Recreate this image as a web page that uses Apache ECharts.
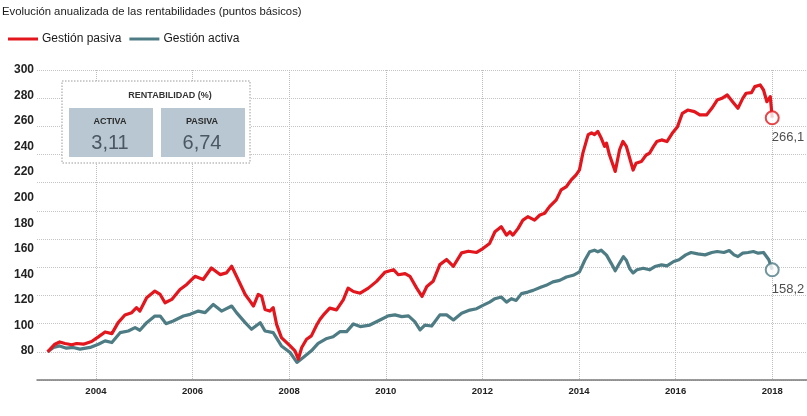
<!DOCTYPE html>
<html>
<head>
<meta charset="utf-8">
<script src="https://cdn.jsdelivr.net/npm/echarts@6/dist/echarts.min.js"></script>
<style>
html, body { margin: 0; padding: 0; background: #fff; }
#grafico { width: 807px; height: 416px; }
</style>
</head>
<body>
<div id="grafico"></div>
<script>
// datos (indice base 100 en 2003)
var fechasPasiva = [
  2003.00, 2003.15, 2003.25, 2003.36, 2003.50, 2003.60, 2003.74, 2003.91,
  2004.05, 2004.19, 2004.33, 2004.46, 2004.60, 2004.74, 2004.84, 2004.91,
  2005.05, 2005.22, 2005.33, 2005.43, 2005.57, 2005.74, 2005.88,
  2006.05, 2006.22, 2006.39, 2006.57, 2006.70, 2006.81, 2006.91,
  2007.09, 2007.19, 2007.26, 2007.36, 2007.43, 2007.50, 2007.60, 2007.67, 2007.74, 2007.84,
  2008.02, 2008.12, 2008.19, 2008.26, 2008.36, 2008.46, 2008.57, 2008.64, 2008.71, 2008.84, 2008.98,
  2009.12, 2009.22, 2009.33, 2009.47, 2009.64, 2009.81, 2009.98,
  2010.16, 2010.26, 2010.40, 2010.50, 2010.64, 2010.75, 2010.85, 2010.98,
  2011.12, 2011.26, 2011.40, 2011.57, 2011.71, 2011.88,
  2012.01, 2012.15, 2012.26, 2012.39, 2012.50, 2012.57, 2012.63, 2012.74, 2012.84, 2012.94,
  2013.08, 2013.19, 2013.29, 2013.39, 2013.53, 2013.63, 2013.74, 2013.84, 2013.94,
  2014.01, 2014.08, 2014.19, 2014.26, 2014.32, 2014.39, 2014.46, 2014.53, 2014.57, 2014.63, 2014.75, 2014.84, 2014.91, 2014.98,
  2015.05, 2015.12, 2015.18, 2015.29, 2015.39, 2015.46, 2015.54, 2015.61, 2015.71, 2015.82, 2015.93,
  2016.04, 2016.14, 2016.25, 2016.39, 2016.50, 2016.64, 2016.75, 2016.86, 2016.96,
  2017.07, 2017.18, 2017.29, 2017.39, 2017.46, 2017.57, 2017.64, 2017.75, 2017.82, 2017.89, 2017.96,
  2018.00
];
var valoresPasiva = [
  100, 105.4, 107, 105.9, 105, 105.9, 105.4, 107.3,
  110.6, 114.1, 112.9, 120.7, 126.1, 127.8, 131.3, 128.9,
  138.4, 143.1, 140.7, 134.8, 137.2, 144.2, 147.8,
  153.6, 151.3, 159.5, 154.8, 156, 160.7, 153.6,
  140.7, 136, 132.5, 140.7, 139.5, 130.1, 128.9, 131.3, 119.5, 110.1,
  104.2, 100.7, 94.8, 103.1, 108.9, 111.3, 119, 123.1, 126.2, 131, 129.8,
  136.9, 145.2, 142.8, 141.6, 145.2, 150, 156.4,
  158.3, 154.7, 155.5, 153.6, 145.2, 139.3, 146.4, 150,
  161.9, 165.5, 160.7, 170.2, 171.4, 170.5,
  173.3, 176.9, 185.2, 188.8, 182.8, 185.2, 182.8, 187.6, 193.5, 195.9,
  193.5, 197.1, 198.3, 203, 207.8, 214.9, 217.3, 222, 225.6,
  229.1, 241, 254.1, 255.3, 254.1, 256.4, 251.7, 245.8, 248.1, 239.8, 228, 243.4, 249.3, 245.8,
  237.4, 229, 233.8, 235, 239.7, 240.9, 245.6, 249.2, 250.4, 249.2, 255.1,
  259.8, 269.3, 271.6, 270.5, 268.1, 268.1, 272.8, 278.7, 279.9,
  282.3, 277.5, 272.8, 279.9, 283.5, 283.9, 288.2, 289.4, 285.8, 277.5, 281.1,
  266.1
];

var fechasActiva = [
  2003.00, 2003.12, 2003.25, 2003.39, 2003.53, 2003.67, 2003.88,
  2004.05, 2004.19, 2004.33, 2004.50, 2004.67, 2004.81, 2004.91,
  2005.05, 2005.22, 2005.33, 2005.45, 2005.60, 2005.81, 2005.95,
  2006.12, 2006.26, 2006.43, 2006.60, 2006.81, 2006.91,
  2007.09, 2007.22, 2007.40, 2007.50, 2007.67, 2007.84,
  2008.02, 2008.16, 2008.29, 2008.46, 2008.60, 2008.78, 2008.91,
  2009.05, 2009.19, 2009.33, 2009.47, 2009.67, 2009.88,
  2010.05, 2010.19, 2010.33, 2010.47, 2010.60, 2010.71, 2010.81, 2010.95,
  2011.12, 2011.26, 2011.40, 2011.57, 2011.74, 2011.88,
  2012.01, 2012.15, 2012.26, 2012.39, 2012.50, 2012.60, 2012.70, 2012.81, 2012.94,
  2013.05, 2013.22, 2013.32, 2013.46, 2013.60, 2013.74, 2013.88,
  2014.01, 2014.12, 2014.22, 2014.32, 2014.39, 2014.46, 2014.57, 2014.67, 2014.75, 2014.84, 2014.92, 2014.98,
  2015.05, 2015.12, 2015.20, 2015.33, 2015.46, 2015.57, 2015.71, 2015.82, 2015.96,
  2016.07, 2016.21, 2016.32, 2016.46, 2016.61, 2016.75, 2016.86,
  2017.00, 2017.11, 2017.21, 2017.29, 2017.39, 2017.50, 2017.61, 2017.71, 2017.82, 2017.93,
  2018.00
];
var valoresActiva = [
  100, 103.1, 104.2, 102.6, 103.1, 101.9, 103.1,
  105.4, 107.8, 106.6, 113.6, 114.8, 117.2, 115.3,
  120.7, 125.4, 125.4, 120, 121.9, 125.4, 126.6,
  128.9, 127.8, 133.6, 128.9, 132.5, 127.8,
  120.7, 116, 120.7, 114.8, 113.6, 104.2,
  99.5, 92.5, 96, 100.7, 106, 109.5, 110.7,
  114.3, 114.3, 119.8, 117.9, 119, 122.6,
  125.5, 126.2, 125, 125.5, 121.4, 115.5, 119, 118.3,
  126.2, 126.2, 122.6, 127.4, 129.6, 130.6,
  133, 135.3, 137.7, 138.9, 135.3, 137.7, 136.5, 141.3, 142.4,
  143.6, 146, 147.2, 149.6, 150.7, 153.1, 154.3,
  156.7, 165, 171, 172.1, 171, 172.1, 168.6, 162.6, 157.5, 163, 167.5, 165,
  159, 156, 158.2, 159.3, 158.2, 160.5, 161.7, 161, 164.1,
  165.3, 168.8, 170.5, 169.5, 168.8, 170.5, 171.2,
  170.5, 171.9, 168.8, 167.6, 170, 170.5, 171.2, 170, 170.5, 165.3,
  158.2
];

var aniosEje = [2004, 2006, 2008, 2010, 2012, 2014, 2016, 2018];
var etiquetasY = [80, 100, 120, 140, 160, 180, 200, 220, 240, 260, 280, 300];

var rentabilidadNombres = ['ACTIVA', 'PASIVA'];
var rentabilidadValores = [3.11, 6.74];

var ROJO = '#e2161c';
var AZUL = '#4e7c84';
var fuente = "'Liberation Sans', Arial, sans-serif";

function pares(x, y) {
  return x.map(function (f, i) { return [f, y[i]]; });
}
function coma(v) { return String(v).replace('.', ','); }

var ultimoPasiva = [fechasPasiva[fechasPasiva.length - 1], valoresPasiva[valoresPasiva.length - 1]];
var ultimoActiva = [fechasActiva[fechasActiva.length - 1], valoresActiva[valoresActiva.length - 1]];

// recuadro de rentabilidad
var recuadro = [
  { type: 'rect', shape: { x: 62, y: 81, width: 188, height: 82 },
    style: { fill: '#fff', stroke: '#9a9a9a', lineWidth: 1, lineDash: [1.5, 1.5] }, z: 10 },
  { type: 'text', x: 170, y: 96, z: 11,
    style: { text: 'RENTABILIDAD (%)', font: 'bold 9px "Liberation Sans", sans-serif', fill: '#333', align: 'center', verticalAlign: 'middle' } }
];
rentabilidadNombres.forEach(function (n, i) {
  var x0 = 69 + i * 92;
  recuadro.push({ type: 'rect', z: 11, shape: { x: x0, y: 108, width: 84, height: 49 }, style: { fill: '#b8c7d1' } });
  recuadro.push({ type: 'text', x: x0 + 41, y: 122, z: 12,
    style: { text: n, font: 'bold 9px "Liberation Sans", sans-serif', fill: '#2b2b2b', align: 'center', verticalAlign: 'middle' } });
  recuadro.push({ type: 'text', x: x0 + 41, y: 143, z: 12,
    style: { text: coma(rentabilidadValores[i].toFixed(2)), font: '20px "Liberation Sans", sans-serif', fill: '#4b5763', align: 'center', verticalAlign: 'middle' } });
});

var myChart = echarts.init(document.getElementById('grafico'));
option = {
  animation: false,
  backgroundColor: '#fff',
  title: {
    text: 'Evolución anualizada de las rentabilidades (puntos básicos)',
    left: 2, top: 6, padding: 0,
    textStyle: { fontFamily: fuente, fontSize: 11.3, fontWeight: 'normal', color: '#1a1a1a' }
  },
  legend: {
    left: 8, top: 33, padding: 0,
    itemWidth: 30, itemHeight: 3, itemGap: 8,
    icon: 'rect',
    data: ['Gestión pasiva', 'Gestión activa'],
    textStyle: { fontFamily: fuente, fontSize: 12, color: '#1a1a1a', padding: [0, 0, 0, -1] }
  },
  grid: { left: 37, right: 0, top: 70, bottom: 36, outerBoundsMode: 'none' },
  xAxis: {
    type: 'value',
    min: 2002.78, max: 2018.72,
    axisLine: { show: true, onZero: false, lineStyle: { color: '#7a7a7a', width: 1.5 } },
    axisTick: { show: false, customValues: aniosEje },
    axisLabel: {
      customValues: aniosEje, margin: 6,
      formatter: function (v) { return String(v); },
      fontFamily: fuente, fontSize: 9.5, fontWeight: 'bold', color: '#222'
    },
    splitLine: { show: true, lineStyle: { color: '#bdbdbd', type: 'dotted', width: 1 } }
  },
  yAxis: [
    {
      type: 'value', min: 80, max: 300, interval: 20,
      axisLine: { show: false }, axisTick: { show: false },
      axisLabel: { show: false },
      splitLine: { show: true, lineStyle: { color: '#c4c4c4', type: 'dotted', width: 1 } }
    },
    {
      // etiquetas tal como aparecen en el original (algo desplazadas de la rejilla)
      type: 'value', min: 57.3, max: 300, position: 'left',
      axisLine: { show: false }, axisTick: { show: false }, splitLine: { show: false },
      axisLabel: {
        customValues: etiquetasY, margin: 3,
        fontFamily: fuente, fontSize: 12, fontWeight: 'bold', color: '#222'
      }
    }
  ],
  graphic: recuadro,
  series: [
    {
      name: 'Gestión pasiva', type: 'line', z: 4,
      data: pares(fechasPasiva, valoresPasiva),
      showSymbol: false, color: ROJO,
      lineStyle: { width: 3.2, color: ROJO, join: 'round' }
    },
    {
      name: 'Gestión activa', type: 'line', z: 3,
      data: pares(fechasActiva, valoresActiva),
      showSymbol: false, color: AZUL,
      lineStyle: { width: 3.2, color: AZUL, join: 'round' }
    },
    {
      name: 'fin pasiva', type: 'scatter', z: 6,
      data: [ultimoPasiva],
      symbol: 'circle', symbolSize: 13,
      itemStyle: { color: '#fff', borderColor: ROJO, borderWidth: 2 },
      label: { show: true, position: [7, 21], align: 'left', verticalAlign: 'top',
        formatter: function (p) { return coma(p.value[1]); },
        fontFamily: fuente, fontSize: 13, color: '#222' }
    },
    {
      name: 'fin activa', type: 'scatter', z: 6,
      data: [ultimoActiva],
      symbol: 'circle', symbolSize: 13,
      itemStyle: { color: '#fff', borderColor: AZUL, borderWidth: 2 },
      label: { show: true, position: [7, 21], align: 'left', verticalAlign: 'top',
        formatter: function (p) { return coma(p.value[1]); },
        fontFamily: fuente, fontSize: 13, color: '#222' }
    }
  ]
};
myChart.setOption(option);
</script>
</body>
</html>
